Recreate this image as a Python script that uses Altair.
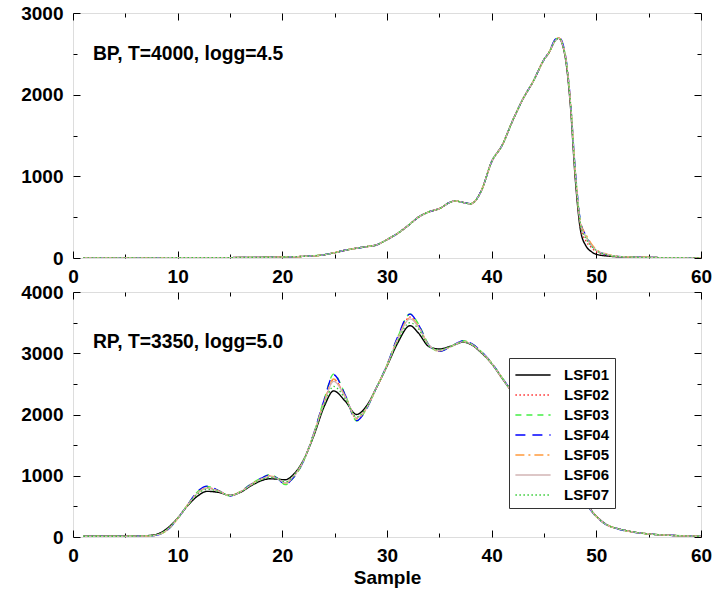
import altair as alt
import pandas as pd

series = ["LSF01", "LSF02", "LSF03", "LSF04", "LSF05", "LSF06", "LSF07"]
colors = ["#000000", "#ff2a2a", "#44ee44", "#0000ff", "#ff9a3c", "#d2b4b4", "#33cc33"]
dashes = [[1, 0], [1.5, 2.5], [6, 5], [10, 7], [9, 4, 2, 4], [1, 0], [1.5, 2.5]]
widths = [1.4, 1.3, 1.5, 1.3, 1.4, 2.2, 1.2]

# ---------------- BP panel (T=4000, logg=4.5) ----------------
bp_x = [1, 5, 10, 15, 18, 20, 22, 24, 25, 26,
        27, 28, 29, 30, 31, 32, 33, 34, 35, 36,
        36.5, 37, 38, 39, 40, 41, 42, 43, 44, 45,
        45.5, 46, 46.4, 47, 47.5, 48, 48.5, 49, 49.5, 50,
        51, 52, 54, 56, 58, 60]

bp_lsf01 = [2, 2, 3, 5, 8, 12, 20, 40, 65, 95,
            118, 138, 160, 225, 300, 395, 500, 565, 605, 680,
            700, 688, 665, 820, 1180, 1380, 1680, 1950, 2170, 2430,
            2520, 2650, 2690, 2480, 1900, 950, 330, 150, 80, 45,
            25, 15, 8, 5, 3, 2]
bp_lsf02 = [2, 2, 3, 5, 8, 12, 20, 40, 65, 95,
            118, 138, 160, 225, 300, 395, 500, 565, 605, 680,
            700, 688, 665, 820, 1180, 1380, 1680, 1950, 2170, 2430,
            2520, 2655, 2695, 2500, 1940, 1000, 380, 210, 130, 75,
            35, 18, 9, 5, 3, 2]
bp_lsf03 = [2, 2, 3, 5, 8, 12, 20, 40, 65, 95,
            118, 138, 160, 225, 300, 395, 500, 565, 605, 680,
            700, 688, 665, 820, 1180, 1380, 1680, 1950, 2170, 2430,
            2520, 2660, 2700, 2510, 1960, 1050, 430, 270, 160, 95,
            42, 20, 9, 5, 3, 2]
bp_lsf04 = [2, 2, 3, 5, 8, 12, 20, 40, 65, 95,
            118, 138, 160, 225, 300, 395, 500, 565, 605, 680,
            700, 688, 665, 820, 1180, 1380, 1680, 1950, 2170, 2430,
            2525, 2665, 2710, 2520, 1970, 1060, 440, 280, 165, 95,
            42, 20, 9, 5, 3, 2]
bp_lsf05 = [2, 2, 3, 5, 8, 12, 20, 40, 65, 95,
            118, 138, 160, 225, 300, 395, 500, 565, 605, 680,
            700, 688, 665, 820, 1180, 1380, 1680, 1950, 2170, 2430,
            2520, 2650, 2695, 2510, 1960, 1040, 420, 290, 180, 105,
            48, 22, 10, 5, 3, 2]
bp_lsf06 = [2, 2, 3, 5, 8, 12, 20, 40, 65, 95,
            118, 138, 160, 225, 300, 395, 500, 565, 605, 680,
            700, 688, 665, 820, 1180, 1380, 1680, 1950, 2170, 2430,
            2520, 2650, 2690, 2500, 1950, 1030, 410, 260, 160, 95,
            45, 21, 9, 5, 3, 2]
bp_lsf07 = [2, 2, 3, 5, 8, 12, 20, 40, 65, 95,
            118, 138, 160, 225, 300, 395, 500, 565, 605, 680,
            700, 688, 665, 820, 1180, 1380, 1680, 1950, 2170, 2430,
            2520, 2650, 2690, 2495, 1940, 1020, 400, 240, 150, 90,
            40, 19, 9, 5, 3, 2]

# ---------------- RP panel (T=3350, logg=5.0) ----------------
rp_x = [1, 4, 7, 8, 9, 10, 11, 12, 12.8, 14,
        15, 16, 17, 18, 18.8, 19.5, 20.3, 21, 22, 23,
        24, 24.9, 26, 27.1, 28, 29, 30, 31, 32.2, 33,
        34, 35, 36, 37.3, 38, 39, 40, 41, 42, 43,
        44, 45, 46, 47, 48, 49, 50, 51, 52, 53,
        55, 57, 60]

rp_lsf01 = [12, 12, 22, 45, 140, 310, 520, 680, 745, 725,
            680, 730, 835, 920, 950, 945, 935, 1010, 1250, 1650,
            2130, 2385, 2220, 2000, 2130, 2440, 2790, 3160, 3450, 3330,
            3110, 3070, 3110, 3180, 3145, 3010, 2830, 2590, 2350, 2100,
            1850, 1580, 1310, 1050, 780, 550, 340, 200, 140, 100,
            50, 28, 10]
rp_lsf02 = [11, 11, 17, 34, 118, 302, 535, 735, 805, 745,
            675, 740, 855, 950, 995, 958, 880, 975, 1235, 1680,
            2200, 2565, 2300, 1935, 2090, 2440, 2800, 3230, 3590, 3440,
            3130, 3040, 3100, 3190, 3155, 3020, 2835, 2595, 2350, 2100,
            1850, 1580, 1310, 1050, 780, 545, 335, 197, 137, 97,
            50, 28, 10]
rp_lsf03 = [10, 10, 15, 30, 110, 300, 540, 755, 825, 750,
            670, 745, 865, 965, 1020, 965, 855, 955, 1225, 1690,
            2250, 2660, 2330, 1895, 2080, 2440, 2810, 3250, 3640, 3480,
            3140, 3030, 3100, 3205, 3165, 3030, 2840, 2600, 2355, 2100,
            1850, 1580, 1310, 1050, 780, 540, 330, 195, 135, 95,
            50, 28, 10]
rp_lsf04 = [10, 10, 15, 30, 110, 300, 540, 760, 830, 750,
            670, 740, 860, 960, 1015, 960, 860, 960, 1230, 1690,
            2240, 2650, 2320, 1900, 2080, 2440, 2810, 3260, 3640, 3470,
            3130, 3030, 3100, 3200, 3165, 3030, 2840, 2600, 2355, 2100,
            1850, 1580, 1310, 1050, 780, 540, 330, 195, 135, 95,
            50, 28, 10]
rp_lsf05 = [10, 10, 16, 32, 115, 300, 535, 735, 800, 745,
            675, 740, 855, 950, 995, 960, 880, 975, 1235, 1680,
            2210, 2580, 2300, 1930, 2090, 2440, 2800, 3230, 3580, 3440,
            3130, 3040, 3100, 3190, 3155, 3020, 2835, 2595, 2350, 2100,
            1850, 1580, 1310, 1050, 780, 545, 335, 197, 137, 97,
            50, 28, 10]
rp_lsf06 = [11, 11, 17, 35, 120, 303, 532, 730, 795, 742,
            676, 738, 850, 945, 990, 955, 885, 980, 1238, 1675,
            2190, 2540, 2290, 1945, 2095, 2440, 2800, 3220, 3560, 3430,
            3130, 3045, 3100, 3188, 3153, 3018, 2833, 2593, 2350, 2100,
            1850, 1580, 1310, 1050, 780, 546, 336, 198, 138, 98,
            50, 28, 10]
rp_lsf07 = [12, 12, 19, 38, 128, 305, 528, 715, 780, 738,
            678, 735, 845, 935, 975, 952, 900, 990, 1242, 1665,
            2160, 2460, 2260, 1960, 2105, 2440, 2795, 3190, 3500, 3400,
            3120, 3055, 3105, 3185, 3150, 3015, 2832, 2592, 2350, 2100,
            1850, 1580, 1310, 1050, 780, 548, 338, 199, 139, 99,
            50, 28, 10]

bp_values = [bp_lsf01, bp_lsf02, bp_lsf03, bp_lsf04, bp_lsf05, bp_lsf06, bp_lsf07]
rp_values = [rp_lsf01, rp_lsf02, rp_lsf03, rp_lsf04, rp_lsf05, rp_lsf06, rp_lsf07]

x_major = [0, 10, 20, 30, 40, 50, 60]
x_minor = [5, 15, 25, 35, 45, 55]
bp_y_major = [0, 1000, 2000, 3000]
bp_y_minor = [500, 1500, 2500]
rp_y_major = [0, 1000, 2000, 3000, 4000]
rp_y_minor = [500, 1500, 2500, 3500]

bp_note = "BP, T=4000, logg=4.5"
rp_note = "RP, T=3350, logg=5.0"


def long_frame(xs, vals):
    rows = []
    for name, ys in zip(series, vals):
        assert len(ys) == len(xs), name
        for x, y in zip(xs, ys):
            rows.append({"sample": x, "value": y, "series": name})
    return pd.DataFrame(rows)


FONT = "Liberation Sans"
W, H = 628, 245


def panel(df, ymax, ymaj, ymin, note, note_y, legend, xtitle):
    xs = alt.Scale(domain=[0, 60], nice=False, zero=False)
    ys = alt.Scale(domain=[0, ymax], nice=False, zero=False)
    lab = dict(labelFont=FONT, labelFontSize=19, labelFontWeight="bold",
               labelColor="black", tickColor="black", tickWidth=1,
               grid=False, domain=False, labelFlush=False)

    base = alt.Chart(df)
    xaxis_kw = dict(orient="bottom", values=x_major, tickSize=7, offset=-7,
                    labelPadding=9, format="d", **lab)
    if xtitle:
        xaxis_kw.update(title=xtitle, titleFont=FONT, titleFontSize=19,
                        titleFontWeight="bold", titleColor="black", titlePadding=3)
    else:
        xaxis_kw.update(title=None)
    lines = base.mark_line(interpolate="monotone", clip=True).encode(
        x=alt.X("sample:Q", scale=xs, axis=alt.Axis(**xaxis_kw)),
        y=alt.Y("value:Q", scale=ys,
                axis=alt.Axis(orient="left", values=ymaj, tickSize=7, offset=-7,
                              labelPadding=10, format="d", title=None, **lab)),
        color=alt.Color("series:N", scale=alt.Scale(domain=series, range=colors),
                        legend=legend, sort=series),
        strokeDash=alt.StrokeDash("series:N", scale=alt.Scale(domain=series, range=dashes),
                                  legend=legend, sort=series),
        strokeWidth=alt.StrokeWidth("series:N", scale=alt.Scale(domain=series, range=widths),
                                    legend=legend, sort=series),
    )

    noax = dict(labels=False, domain=False, grid=False, title=None,
                tickColor="black", tickWidth=1)

    l2 = base.mark_point(opacity=0).encode(
        x=alt.X("sample:Q", scale=xs,
                axis=alt.Axis(orient="top", values=x_major, tickSize=7, offset=-7, **noax)),
        y=alt.Y("value:Q", scale=ys,
                axis=alt.Axis(orient="right", values=ymaj, tickSize=7, offset=-7, **noax)),
    )
    l3 = base.mark_point(opacity=0).encode(
        x=alt.X("sample:Q", scale=xs,
                axis=alt.Axis(orient="bottom", values=x_minor, tickSize=4, offset=-4, **noax)),
        y=alt.Y("value:Q", scale=ys,
                axis=alt.Axis(orient="left", values=ymin, tickSize=4, offset=-4, **noax)),
    )
    l4 = base.mark_point(opacity=0).encode(
        x=alt.X("sample:Q", scale=xs,
                axis=alt.Axis(orient="top", values=x_minor, tickSize=4, offset=-4, **noax)),
        y=alt.Y("value:Q", scale=ys,
                axis=alt.Axis(orient="right", values=ymin, tickSize=4, offset=-4, **noax)),
    )
    txt = alt.Chart(pd.DataFrame({"sample": [1.9], "value": [note_y], "t": [note]})).mark_text(
        align="left", baseline="middle", font=FONT, fontSize=19.3, fontWeight="bold", color="black"
    ).encode(x=alt.X("sample:Q", scale=xs, axis=None),
             y=alt.Y("value:Q", scale=ys, axis=None), text="t:N")

    return alt.layer(lines, l2, l3, l4, txt).resolve_axis(x="independent", y="independent").properties(
        width=W, height=H)


bp_df = long_frame(bp_x, bp_values)
rp_df = long_frame(rp_x, rp_values)

legend = alt.Legend(orient="none", legendX=436, legendY=66, title=None,
                    symbolType="M-1.6,0H1.6", symbolSize=484, symbolStrokeWidth=1.5,
                    symbolOffset=7,
                    labelFont=FONT, labelFontSize=15, labelFontWeight="bold",
                    labelColor="black", strokeColor="#333333", fillColor="white",
                    padding=5, rowPadding=0, labelOffset=19)

top = panel(bp_df, 3000, bp_y_major, bp_y_minor, bp_note, 2500, None, None)
bottom = panel(rp_df, 4000, rp_y_major, rp_y_minor, rp_note, 3180, legend, "Sample")

chart = alt.vconcat(top, bottom, spacing=-5).resolve_scale(
    color="independent", strokeDash="independent", strokeWidth="independent"
).properties(
    padding={"left": 20, "top": 3, "right": 8, "bottom": 5}
).configure_view(stroke="black", strokeWidth=1.2).configure(background="white")

chart.save("out.html", embed_options={"renderer": "svg", "actions": False})
